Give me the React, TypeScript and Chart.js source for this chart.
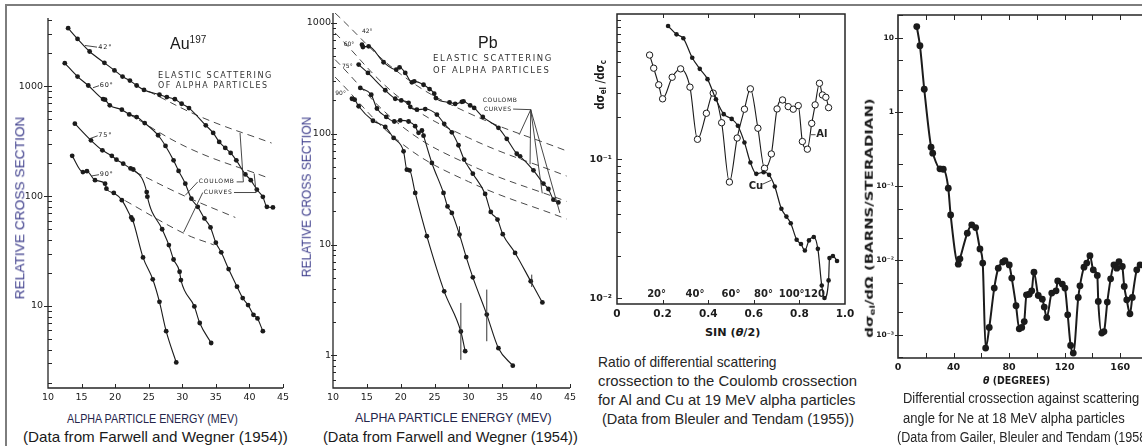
import React, { useEffect, useLayoutEffect, useRef, useState } from 'react';
import { Chart, registerables } from 'chart.js';

Chart.register(...registerables);

// ---------------- Panel 1: Au197 (Farwell and Wegner 1954) ----------------
const energyTicks = [10, 15, 20, 25, 30, 35, 40, 45];
const auDecades = [10, 100, 1000];

const auEnergy42 = [13.0, 14.4, 16.2, 18.4, 19.9, 21.1, 22.2, 23.2, 24.3, 26.6, 27.7, 28.9, 29.9, 31.0, 33.5, 34.6, 35.5, 36.4, 37.2, 38.05, 39.4, 40.2, 41.1, 42.0, 42.6, 43.5];
const auCross42 = [3390, 2710, 2080, 1640, 1400, 1230, 1130, 1020, 930, 840, 800, 765, 695, 635, 442, 377, 312, 275, 248, 212, 158, 140, 115, 98.6, 80, 79];

const auEnergy60 = [12.5, 14.4, 16.0, 18.2, 18.5, 19.2, 21.0, 22.1, 23.2, 24.4, 26.4, 27.5, 28.7, 29.45, 30.45, 31.35, 32.3, 33.3, 34.2, 35.0, 35.8, 36.9, 38.15, 39.0, 39.8, 40.6, 41.2, 42.0];
const auCross60 = [1630, 1230, 1020, 767, 757, 672, 614, 556, 526, 464, 359, 287, 212, 170, 130, 95, 80, 62.7, 51.9, 37.7, 30.8, 21.7, 15, 11.8, 10.2, 8.3, 7.7, 5.9];

const auEnergy75 = [14.0, 16.4, 18.1, 19.5, 20.2, 21.2, 22.3, 22.7, 24.7, 24.8, 27.0, 28.0, 28.7, 29.6, 29.8, 31.8, 32.6, 34.3];
const auCross75 = [458, 323, 262, 233, 215, 198, 179, 175, 109, 99, 50, 35.9, 26.5, 20.5, 17.2, 9.9, 7.0, 4.6];

const auEnergy90 = [13.6, 15.2, 15.8, 17.0, 18.5, 18.7, 19.8, 21.0, 22.4, 22.6, 24.15, 25.6, 26.6, 27.6, 29.1];
const auCross90 = [233, 166, 169, 140, 130, 117, 107, 92, 64, 61, 27.7, 17.5, 10.9, 5.9, 3.06];

const auCoulombE42 = [25, 33, 43.3];
const auCoulombV42 = [900, 520, 305];
const auCoulombE60 = [22, 31.2, 42.4];
const auCoulombV60 = [560, 270, 150];
const auCoulombE75 = [23, 30.4, 37.9];
const auCoulombV75 = [166, 100, 64];
const auCoulombE90 = [21.5, 30.2, 34.7];
const auCoulombV90 = [91, 46, 36];

// ---------------- Panel 2: Pb (Farwell and Wegner 1954) ----------------
const pbDecades = [1, 10, 100, 1000];

const pbEnergy42 = [14.28, 14.42, 15.26, 17.47, 19.34, 19.83, 20.67, 21.65, 22.0, 23.37, 24.26, 24.95, 25.19, 27.21, 28.04, 29.03, 29.27, 30.26, 30.85, 32.12, 34.43, 35.66, 37.14, 37.63, 39.6, 41.07, 41.81, 42.55, 43.28];
const pbCross42 = [637, 607, 615, 442, 379, 398, 354, 291, 297, 277, 253, 230, 210, 192, 186, 194, 196, 180, 171, 142, 113, 90, 66, 62.5, 46.8, 35.5, 31.7, 25.4, 24];

const pbEnergy60 = [13.79, 15.16, 17.72, 19.19, 20.08, 21.16, 21.41, 22.39, 23.62, 25.34, 26.42, 27.55, 28.53, 29.37, 30.65, 32.47, 33.3, 34.29, 35.07, 36.89, 39.2, 40.92];
const pbCross60 = [421, 354, 247, 207, 200, 190, 175, 165, 167, 149, 123, 103, 78.7, 58.4, 43.6, 28.6, 19.7, 16.8, 12.4, 8.4, 4.66, 3.0];

const pbEnergy75 = [14.03, 15.65, 16.49, 17.87, 19.05, 19.93, 21.16, 22.14, 22.64, 23.13, 23.37, 24.6, 26.32, 26.91, 27.55, 28.68, 29.67, 30.65, 32.71, 34.43, 36.55];
const pbCross75 = [259, 225, 169, 142, 129, 132, 129, 117, 102, 107, 96, 54.5, 29.2, 22.1, 19.3, 12.3, 7.7, 5.06, 2.33, 1.16, 0.806];

const pbEnergy90 = [12.8, 13.2, 13.79, 15.9, 17.72, 18.95, 20.42, 20.91, 21.31, 22.14, 23.86, 26.42, 28.88, 29.52];
const pbCross90 = [207, 203, 177, 131, 115, 91.6, 69.4, 47.4, 46.8, 29.2, 11.9, 3.78, 1.64, 1.09];

const pbCoulombE = [10.3, 20, 30, 44.5];
const pbCoulombV42 = [1230, 345, 154, 70];
const pbCoulombV60 = [813, 207, 92, 41.5];
const pbCoulombV75 = [467, 119, 53, 24.5];
const pbCoulombV90 = [325, 83, 37, 17];

const pbErrEnergy = [28.68, 28.88, 32.71, 39.35];
const pbErrLow = [11.5, 0.91, 1.34, 4.14];
const pbErrHigh = [14.6, 2.97, 3.92, 5.35];

// ---------------- Panel 3: Al and Cu ratio (Bleuler and Tendam 1955) ----------------
const sinTicks = [0, 0.2, 0.4, 0.6, 0.8, 1.0];
const ratioDecades = [0.01, 0.1];
const angleMarks = [20, 40, 60, 80, 100, 120];

const alSin = [0.143, 0.161, 0.183, 0.2, 0.242, 0.279, 0.32, 0.353, 0.392, 0.422, 0.459, 0.493, 0.527, 0.559, 0.585, 0.618, 0.647, 0.677, 0.702, 0.726, 0.751, 0.773, 0.795, 0.813, 0.835, 0.854, 0.869, 0.888, 0.901, 0.916, 0.928];
const alRatio = [0.562, 0.452, 0.343, 0.272, 0.389, 0.447, 0.33, 0.139, 0.214, 0.299, 0.183, 0.0684, 0.142, 0.229, 0.321, 0.167, 0.086, 0.109, 0.23, 0.267, 0.239, 0.229, 0.243, 0.134, 0.118, 0.181, 0.246, 0.352, 0.29, 0.279, 0.235];

const cuSin = [0.224, 0.261, 0.291, 0.33, 0.363, 0.397, 0.434, 0.468, 0.503, 0.53, 0.559, 0.585, 0.611, 0.643, 0.667, 0.692, 0.721, 0.743, 0.762, 0.788, 0.807, 0.824, 0.842, 0.863, 0.881, 0.898, 0.91, 0.928, 0.932, 0.947, 0.965];
const cuRatio = [0.91, 0.792, 0.742, 0.538, 0.447, 0.377, 0.27, 0.211, 0.195, 0.174, 0.132, 0.0946, 0.0784, 0.0806, 0.0771, 0.0635, 0.0439, 0.0386, 0.0346, 0.0263, 0.0245, 0.022, 0.026, 0.0275, 0.0226, 0.0123, 0.01, 0.0134, 0.0194, 0.0201, 0.0185];

// ---------------- Panel 4: Ne at 18 MeV (Gailer, Bleuler and Tendam 1958) ----------------
const thetaTicks = [0, 20, 40, 60, 80, 100, 120, 140, 160, 180];
const thetaLabels = [0, 40, 80, 120, 160];
const neDecades = [0.001, 0.01, 0.1, 1, 10];

const neTheta = [13.5, 15.8, 18.9, 23.8, 25.0, 30.2, 32.6, 36.2, 37.9, 43.4, 44.6, 49.9, 53.1, 55.9, 59.0, 61.0, 63.1, 65.7, 69.3, 72.2, 75.4, 77.0, 80.1, 81.9, 85.0, 87.3, 89.1, 90.9, 92.5, 94.5, 96.3, 97.9, 101.0, 103.9, 105.3, 107.1, 110.7, 113.8, 115.0, 118.3, 120.2, 122.2, 124.3, 126.2, 129.8, 131.0, 133.9, 135.9, 138.2, 140.6, 143.5, 144.2, 146.7, 148.3, 150.7, 153.1, 155.5, 157.5, 159.1, 161.5, 162.9, 164.7, 167.0, 168.7, 171.9, 174.3];
const neCross = [14.1, 7.8, 2.02, 0.335, 0.278, 0.171, 0.169, 0.094, 0.041, 0.0089, 0.0105, 0.0233, 0.0302, 0.0277, 0.0143, 0.0092, 0.00066, 0.00125, 0.00424, 0.00787, 0.0095, 0.0099, 0.0087, 0.00578, 0.00245, 0.0012, 0.00125, 0.0015, 0.00344, 0.0035, 0.0039, 0.00695, 0.00337, 0.00301, 0.00235, 0.0017, 0.00363, 0.0039, 0.0053, 0.0048, 0.00424, 0.00185, 0.000716, 0.000565, 0.00317, 0.00455, 0.0081, 0.0092, 0.0116, 0.00746, 0.00627, 0.0028, 0.00105, 0.0011, 0.00275, 0.00565, 0.0087, 0.00787, 0.00966, 0.00828, 0.00446, 0.00295, 0.00191, 0.00317, 0.00746, 0.0087];

// ---------------- helpers ----------------
const INK = '#1b1b1b';
const AXIS = '#262626';
const NAVY = '#3b3b8a';
const NAVY2 = '#24244a';
const SCAN = 'DejaVu Sans, sans-serif';
const ARIAL = 'Liberation Sans, Arial, sans-serif';

const pts = (xs: number[], ys: number[]) => xs.map((x, i) => ({ x, y: ys[i] }));

function logSteps(min: number, max: number, mults: number[]) {
  const out: number[] = [];
  for (let e = Math.floor(Math.log10(min)) - 1; e <= Math.ceil(Math.log10(max)); e++) {
    for (const m of mults) {
      const v = m * Math.pow(10, e);
      if (v >= min && v <= max) out.push(v);
    }
  }
  return out;
}

const SUP: Record<string, string> = { '-': '\u207B', '0': '\u2070', '1': '\u00B9', '2': '\u00B2', '3': '\u00B3', '4': '\u2074' };
function decadeLabel(v: number) {
  const e = Math.round(Math.log10(v));
  if (e >= 0) return String(Math.round(Math.pow(10, e)));
  return '10' + String(e).split('').map((c) => SUP[c] || c).join('');
}

type AxesCfg = {
  box: boolean; lw: number; tw: number;
  xTicks: number[]; xIn: number;
  yMajor: number[]; yMajorIn: number; yMajorOut: number;
  yMinor: number[]; yMinorIn: number; mirrorY: boolean;
};

function axesPlugin(cfg: AxesCfg) {
  return {
    id: 'sciAxes',
    afterDatasetsDraw(chart: any) {
      const { ctx, chartArea: a } = chart;
      const xs = chart.scales.x;
      const ys = chart.scales.y;
      ctx.save();
      ctx.strokeStyle = AXIS;
      ctx.lineWidth = cfg.lw;
      ctx.beginPath();
      if (cfg.box) {
        ctx.rect(a.left, a.top, a.right - a.left, a.bottom - a.top);
      } else {
        ctx.moveTo(a.left, a.top);
        ctx.lineTo(a.left, a.bottom);
        ctx.lineTo(a.right, a.bottom);
      }
      ctx.stroke();
      ctx.lineWidth = cfg.tw;
      ctx.beginPath();
      for (const v of cfg.xTicks) {
        const px = Math.round(xs.getPixelForValue(v)) + 0.5;
        ctx.moveTo(px, a.bottom);
        ctx.lineTo(px, a.bottom - cfg.xIn);
        if (cfg.box) {
          ctx.moveTo(px, a.top);
          ctx.lineTo(px, a.top + cfg.xIn);
        }
      }
      for (const v of cfg.yMajor) {
        const py = Math.round(ys.getPixelForValue(v)) + 0.5;
        ctx.moveTo(a.left - cfg.yMajorOut, py);
        ctx.lineTo(a.left + cfg.yMajorIn, py);
        if (cfg.mirrorY) {
          ctx.moveTo(a.right, py);
          ctx.lineTo(a.right - cfg.yMajorIn, py);
        }
      }
      for (const v of cfg.yMinor) {
        if (cfg.yMajor.some((m) => Math.abs(m - v) / m < 1e-6)) continue;
        const py = Math.round(ys.getPixelForValue(v)) + 0.5;
        ctx.moveTo(a.left, py);
        ctx.lineTo(a.left + cfg.yMinorIn, py);
        if (cfg.mirrorY) {
          ctx.moveTo(a.right, py);
          ctx.lineTo(a.right - cfg.yMinorIn, py);
        }
      }
      ctx.stroke();
      ctx.restore();
    },
  };
}

type Note = { x: number; y: number; text: string; font: string; align?: string; spacing?: string };
type Path = { pts: number[][]; width?: number };

function notesPlugin(notes: Note[], paths: Path[]) {
  return {
    id: 'notes',
    afterDatasetsDraw(chart: any) {
      const { ctx } = chart;
      const xs = chart.scales.x;
      const ys = chart.scales.y;
      ctx.save();
      ctx.strokeStyle = '#333';
      for (const p of paths) {
        ctx.lineWidth = p.width || 0.9;
        ctx.beginPath();
        p.pts.forEach(([x, y], i) => {
          const px = xs.getPixelForValue(x);
          const py = ys.getPixelForValue(y);
          if (i === 0) ctx.moveTo(px, py); else ctx.lineTo(px, py);
        });
        ctx.stroke();
      }
      ctx.fillStyle = '#222';
      ctx.textBaseline = 'middle';
      for (const n of notes) {
        ctx.font = n.font;
        ctx.textAlign = n.align || 'left';
        (ctx as any).letterSpacing = n.spacing || '0px';
        ctx.fillText(n.text, xs.getPixelForValue(n.x), ys.getPixelForValue(n.y));
      }
      ctx.restore();
    },
  };
}

type Geo = { left: number; top: number; w: number; h: number; pl: number; pt: number; pr: number; pb: number };

const tickFont = (size: number, bold = false) => ({ family: SCAN, size, weight: bold ? 'bold' : 'normal' });

function linX(min: number, max: number, ticks: number[], label: (v: number) => string, font: any, padding: number) {
  return {
    type: 'linear', min, max,
    grid: { display: false, drawTicks: false }, border: { display: false },
    ticks: { padding, font, color: INK, autoSkip: false, maxRotation: 0, minRotation: 0, callback: (v: any) => label(Number(v)) },
    afterBuildTicks: (s: any) => { s.ticks = ticks.map((value) => ({ value })); },
  };
}

function logY(min: number, max: number, decades: number[], font: any, padding: number) {
  return {
    type: 'logarithmic', min, max,
    grid: { display: false, drawTicks: false }, border: { display: false },
    ticks: { padding, font, color: INK, autoSkip: false, callback: (v: any) => decadeLabel(Number(v)) },
    afterBuildTicks: (s: any) => { s.ticks = decades.map((value) => ({ value })); },
  };
}

function buildConfig(g: Geo, x: any, y: any, datasets: any[], plugins: any[]) {
  return {
    type: 'scatter',
    data: { datasets },
    options: {
      responsive: false,
      animation: false,
      devicePixelRatio: 1,
      events: [],
      layout: { padding: { left: 0, top: g.pt - g.top, right: g.left + g.w - g.pr, bottom: 0 } },
      plugins: { legend: { display: false }, tooltip: { enabled: false }, title: { display: false } },
      scales: {
        x: { ...x, afterFit: (s: any) => { s.height = g.top + g.h - g.pb; s.paddingLeft = 0; s.paddingRight = 0; } },
        y: { ...y, afterFit: (s: any) => { s.width = g.pl - g.left; s.paddingTop = 0; s.paddingBottom = 0; } },
      },
    },
    plugins,
  } as any;
}

const dataCurve = (data: any[], r = 2.4, w = 1.1) => ({
  data, showLine: true, borderColor: INK, borderWidth: w,
  pointRadius: r, pointBackgroundColor: INK, pointBorderColor: INK, pointBorderWidth: 0,
  cubicInterpolationMode: 'monotone',
});
const openCurve = (data: any[]) => ({
  data, showLine: true, borderColor: INK, borderWidth: 1.1,
  pointRadius: 3.2, pointBackgroundColor: '#fff', pointBorderColor: INK, pointBorderWidth: 1,
  cubicInterpolationMode: 'monotone',
});
const coulombCurve = (data: any[]) => ({
  data, showLine: true, borderColor: '#4a4a4a', borderWidth: 1, borderDash: [7, 5],
  pointRadius: 0, tension: 0.4,
});

const small = `6.5px ${SCAN}`;

// ---------------- panel builders ----------------
const g1: Geo = { left: 10, top: 10, w: 280, h: 395, pl: 48, pt: 18, pr: 283, pb: 388 };
const g2: Geo = { left: 295, top: 6, w: 282, h: 399, pl: 333, pt: 13, pr: 570, pb: 388 };
const g3: Geo = { left: 588, top: 6, w: 282, h: 314, pl: 617, pt: 14, pr: 845, pb: 304 };
const g4: Geo = { left: 862, top: 6, w: 300, h: 367, pl: 898, pt: 15, pr: 1148, pb: 358 };

function makeAu() {
  const notes: Note[] = [
    { x: 17.5, y: 2250, text: '42°', font: small, spacing: '0.8px' },
    { x: 17.7, y: 1020, text: '60°', font: small, spacing: '0.8px' },
    { x: 17.5, y: 359, text: '75°', font: small, spacing: '0.8px' },
    { x: 17.7, y: 158, text: '90°', font: small, spacing: '0.8px' },
    { x: 32.45, y: 135, text: 'COULOMB', font: `6px ${SCAN}`, spacing: '0.8px' },
    { x: 33.2, y: 108, text: 'CURVES', font: `6px ${SCAN}`, spacing: '0.8px' },
  ];
  const paths: Path[] = [
    { pts: [[15.5, 2360], [17.3, 2280]] },
    { pts: [[16.7, 973], [17.6, 1015]] },
    { pts: [[16.2, 334], [17.4, 355]] },
    { pts: [[16.5, 153], [17.6, 157]] },
    { pts: [[32.3, 135], [30.45, 102]] },
    { pts: [[33.05, 108], [30.2, 47]] },
    { pts: [[38.1, 135], [39.1, 135], [38.6, 377]] },
    { pts: [[37.7, 108], [41.0, 108], [40.7, 161]] },
  ];
  return buildConfig(
    g1,
    linX(10, 45, energyTicks, (v) => String(v), tickFont(9.5), 4),
    logY(1.79, 4200, auDecades, tickFont(9.5), 5),
    [
      dataCurve(pts(auEnergy42, auCross42)),
      dataCurve(pts(auEnergy60, auCross60)),
      dataCurve(pts(auEnergy75, auCross75)),
      dataCurve(pts(auEnergy90, auCross90)),
      coulombCurve(pts(auCoulombE42, auCoulombV42)),
      coulombCurve(pts(auCoulombE60, auCoulombV60)),
      coulombCurve(pts(auCoulombE75, auCoulombV75)),
      coulombCurve(pts(auCoulombE90, auCoulombV90)),
    ],
    [
      axesPlugin({ box: false, lw: 1.3, tw: 1, xTicks: energyTicks.slice(1), xIn: 4, yMajor: auDecades, yMajorIn: 4, yMajorOut: 4, yMinor: logSteps(1.79, 4200, [1, 2, 3, 4, 5, 6, 7, 8, 9]), yMinorIn: 4, mirrorY: false }),
      notesPlugin(notes, paths),
    ],
  );
}

function makePb() {
  const notes: Note[] = [
    { x: 14.28, y: 841, text: '42°', font: `6px ${SCAN}` },
    { x: 11.57, y: 637, text: '60°', font: `6px ${SCAN}` },
    { x: 11.33, y: 406, text: '75°', font: `6px ${SCAN}` },
    { x: 10.34, y: 230, text: '90°', font: `6px ${SCAN}` },
    { x: 32.12, y: 200, text: 'COULOMB', font: `6px ${SCAN}`, spacing: '0.6px' },
    { x: 32.3, y: 167, text: 'CURVES', font: `6px ${SCAN}`, spacing: '0.6px' },
  ];
  const paths: Path[] = [
    { pts: [[36.6, 167], [39.2, 165]] },
    { pts: [[39.2, 165], [37.5, 98]] },
    { pts: [[39.2, 165], [39.1, 53]] },
    { pts: [[39.2, 165], [40.9, 29]] },
    { pts: [[39.2, 165], [43.5, 19.3]] },
    ...pbErrEnergy.map((e, i) => ({ pts: [[e, pbErrLow[i]], [e, pbErrHigh[i]]], width: 1 })),
  ];
  return buildConfig(
    g2,
    linX(10, 45, energyTicks, (v) => String(v), tickFont(9.5), 4),
    logY(0.507, 1230, pbDecades, tickFont(9.5), 2),
    [
      dataCurve(pts(pbEnergy42, pbCross42)),
      dataCurve(pts(pbEnergy60, pbCross60)),
      dataCurve(pts(pbEnergy75, pbCross75)),
      dataCurve(pts(pbEnergy90, pbCross90)),
      coulombCurve(pts(pbCoulombE, pbCoulombV42)),
      coulombCurve(pts(pbCoulombE, pbCoulombV60)),
      coulombCurve(pts(pbCoulombE, pbCoulombV75)),
      coulombCurve(pts(pbCoulombE, pbCoulombV90)),
    ],
    [
      axesPlugin({ box: false, lw: 1.3, tw: 1, xTicks: energyTicks.slice(1), xIn: 4, yMajor: pbDecades, yMajorIn: 4, yMajorOut: 2, yMinor: logSteps(0.507, 1230, [1, 2, 3, 4, 5, 6, 7, 8, 9]), yMinorIn: 3, mirrorY: false }),
      notesPlugin(notes, paths),
    ],
  );
}

function makeRatio() {
  const notes: Note[] = [
    ...angleMarks.map((a) => ({ x: Math.sin((a / 2) * Math.PI / 180), y: 0.0106, text: a === 120 ? '120' : `${a}°`, font: `bold 10px ${SCAN}`, align: 'center' })),
    { x: 0.874, y: 0.15, text: 'Al', font: `bold 10px ${SCAN}` },
    { x: 0.578, y: 0.0635, text: 'Cu', font: `bold 10px ${SCAN}` },
  ];
  const paths: Path[] = [
    { pts: [[0.851, 0.15], [0.871, 0.15]] },
    { pts: [[0.638, 0.066], [0.677, 0.0705]] },
  ];
  return buildConfig(
    g3,
    linX(0, 1.0, sinTicks, (v) => (v === 0 ? '0' : v.toFixed(1)), tickFont(10.5, true), 4),
    logY(0.00906, 1.11, ratioDecades, tickFont(9.5, true), 5),
    [
      dataCurve(pts(cuSin, cuRatio), 2.3, 1.2),
      openCurve(pts(alSin, alRatio)),
    ],
    [
      axesPlugin({ box: true, lw: 1.5, tw: 1, xTicks: [0.2, 0.4, 0.6, 0.8], xIn: 4, yMajor: ratioDecades, yMajorIn: 5, yMajorOut: 0, yMinor: logSteps(0.00906, 1.11, [1, 2, 3, 4, 5, 6, 7, 8, 9]), yMinorIn: 4, mirrorY: false }),
      notesPlugin(notes, paths),
    ],
  );
}

function makeNe() {
  return buildConfig(
    g4,
    linX(0, 180, thetaTicks, (v) => (thetaLabels.includes(v) ? String(v) : ''), tickFont(9.5, true), 4),
    logY(0.000485, 20.2, neDecades, tickFont(7.5, true), 4),
    [dataCurve(pts(neTheta, neCross), 3.4, 2)],
    [
      axesPlugin({ box: true, lw: 1.6, tw: 1, xTicks: thetaTicks.slice(1, -1), xIn: 5, yMajor: neDecades, yMajorIn: 5, yMajorOut: 3, yMinor: logSteps(0.000485, 20.2, [1, 2, 5]), yMinorIn: 5, mirrorY: true }),
    ],
  );
}

// ---------------- React ----------------
function ChartBox({ g, make }: { g: Geo; make: () => any }) {
  const ref = useRef<HTMLCanvasElement>(null);
  useEffect(() => {
    const chart = new Chart(ref.current as HTMLCanvasElement, make());
    return () => chart.destroy();
  }, []);
  return (
    <canvas
      ref={ref}
      width={g.w}
      height={g.h}
      style={{ position: 'absolute', left: g.left, top: g.top, width: g.w, height: g.h }}
    />
  );
}

function Txt(props: any) {
  const { x, y, w, k, size, bold, color = '#1a1a1a', family = ARIAL, rot, ls, children } = props;
  const ref = useRef<HTMLSpanElement>(null);
  const [scale, setScale] = useState<number>(k ?? 1);
  useLayoutEffect(() => {
    if (w && ref.current) {
      const nat = ref.current.offsetWidth;
      if (nat > 0) setScale(w / nat);
    }
  }, [w]);
  const style: React.CSSProperties = {
    position: 'absolute', left: x, top: y, whiteSpace: 'nowrap', fontSize: size, lineHeight: 1,
    fontFamily: family, fontWeight: bold ? 700 : 400, color, letterSpacing: ls,
    transformOrigin: rot ? 'center center' : 'left center',
    transform: rot ? `translate(-50%, -50%) rotate(-90deg) scaleX(${scale})` : `translateY(-50%) scaleX(${scale})`,
  };
  return <span ref={ref} style={style}>{children}</span>;
}

const sub = (t: string) => <span style={{ fontSize: '0.68em', position: 'relative', top: '0.25em' }}>{t}</span>;

export default function App() {
  return (
    <div style={{ position: 'fixed', left: 0, top: 0, width: 1142, height: 446, overflow: 'hidden', background: '#fff' }}>
      <div style={{ position: 'absolute', left: 5, top: 4, width: 1300, height: 600, borderLeft: '2px solid #7d7d7d', borderTop: '2px solid #7d7d7d' }} />

      <ChartBox g={g1} make={makeAu} />
      <ChartBox g={g2} make={makePb} />
      <ChartBox g={g3} make={makeRatio} />
      <ChartBox g={g4} make={makeNe} />

      {/* Panel 1 */}
      <Txt x={20} y={208} rot w={183} size={13.5} color={NAVY}>RELATIVE CROSS SECTION</Txt>
      <Txt x={170} y={44} size={16}>Au<span style={{ fontSize: 10, position: 'relative', top: -6 }}>197</span></Txt>
      <Txt x={158} y={76} w={115} size={8} family={SCAN} ls="1.5px" color="#333">ELASTIC SCATTERING</Txt>
      <Txt x={158} y={86} w={110} size={8} family={SCAN} ls="1.5px" color="#333">OF ALPHA PARTICLES</Txt>
      <Txt x={67} y={419} w={171} size={12.5} color={NAVY2}>ALPHA PARTICLE ENERGY (MEV)</Txt>
      <Txt x={23} y={437} w={265} size={14.5}>(Data from Farwell and Wegner (1954))</Txt>

      {/* Panel 2 */}
      <Txt x={307} y={197} rot w={160} size={12.5} color={NAVY}>RELATIVE CROSS SECTION</Txt>
      <Txt x={478} y={43} size={16}>Pb</Txt>
      <Txt x={433} y={59} w={120} size={8} family={SCAN} ls="1.5px" color="#333">ELASTIC SCATTERING</Txt>
      <Txt x={433} y={71} w={117} size={8} family={SCAN} ls="1.5px" color="#333">OF ALPHA PARTICLES</Txt>
      <Txt x={355} y={417} w={197} size={13} color={NAVY2}>ALPHA PARTICLE ENERGY (MEV)</Txt>
      <Txt x={323} y={437} w={255} size={14.5}>(Data from Farwell and Wegner (1954))</Txt>

      {/* Panel 3 */}
      <Txt x={600} y={85} rot w={50} size={12} bold family={SCAN}>d{'σ'}{sub('el')} /d{'σ'}{sub('c')}</Txt>
      <Txt x={705} y={332} w={55} size={11} bold family={SCAN}>SIN (<i>{'θ'}</i>/2)</Txt>
      <Txt x={598} y={362} w={179} size={14.5} color="#262626">Ratio of differential scattering</Txt>
      <Txt x={598} y={381} w={259} size={14.5} color="#262626">crossection to the Coulomb crossection</Txt>
      <Txt x={598} y={400} w={257} size={14.5} color="#262626">for Al and Cu at 19 MeV alpha particles</Txt>
      <Txt x={602} y={419} w={252} size={14.5} color="#262626">(Data from Bleuler and Tendam (1955))</Txt>

      {/* Panel 4 */}
      <Txt x={869} y={218} rot w={240} size={10.5} bold family={SCAN}>d{'σ'}{sub('el')}/d{'Ω'} (BARNS/STERADIAN)</Txt>
      <Txt x={983} y={380} w={67} size={10.5} bold family={SCAN}><i>{'θ'}</i> (DEGREES)</Txt>
      <Txt x={903} y={398} w={236} size={15.5} color="#262626">Differential crossection against scattering</Txt>
      <Txt x={903} y={418} w={222} size={15.5} color="#262626">angle for Ne at 18 MeV alpha particles</Txt>
      <Txt x={897} y={437} w={249} size={15.5} color="#262626">(Data from Gailer, Bleuler and Tendam (1958</Txt>
    </div>
  );
}
